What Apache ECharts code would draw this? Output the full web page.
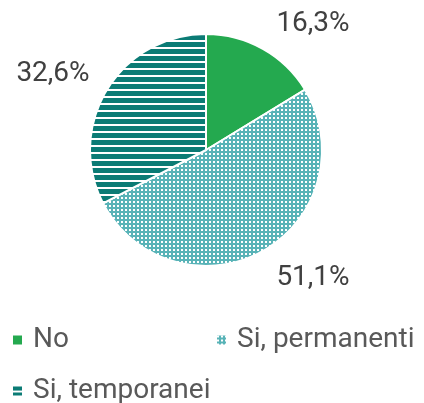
<!DOCTYPE html>
<html>
<head>
<meta charset="utf-8">
<script src="https://cdn.jsdelivr.net/npm/echarts@6/dist/echarts.min.js"></script>
<style>
  html, body { margin: 0; padding: 0; background: #fff; }
  #chart { width: 424px; height: 403px; }
</style>
</head>
<body>
<div id="chart"></div>
<script>
// Data
const categories = ['No', 'Si, permanenti', 'Si, temporanei'];
const values = [16.3, 51.1, 32.6];

const GREEN = '#24a94f';
const LIGHT_TEAL = '#58b3b7';
const DARK_TEAL = '#0b7b75';

// dotted tile for "Si, permanenti"
function dotPattern() {
    const c = document.createElement('canvas');
    c.width = 4; c.height = 4;
    const ctx = c.getContext('2d');
    ctx.fillStyle = LIGHT_TEAL;
    ctx.fillRect(0, 0, 4, 4);
    ctx.fillStyle = '#ffffff';
    ctx.fillRect(1, 1, 2, 2);
    return c;
}

// horizontal stripes for "Si, temporanei"
function stripePattern() {
    const c = document.createElement('canvas');
    c.width = 4; c.height = 7;
    const ctx = c.getContext('2d');
    ctx.fillStyle = '#ffffff';
    ctx.fillRect(0, 0, 4, 7);
    ctx.fillStyle = DARK_TEAL;
    ctx.fillRect(0, 0, 4, 5);
    return c;
}

const fills = [
    GREEN,
    { image: dotPattern(), repeat: 'repeat' },
    { image: stripePattern(), repeat: 'repeat' },
];

const chart = echarts.init(document.getElementById('chart'), null, { renderer: 'canvas' });

// where Excel put the percentage labels (centre of text)
const labelSpots = [
    [313, 24],
    [313, 278],
    [53, 74],
];

const textStyle = {
    fontFamily: 'Roboto', fontSize: 28, color: '#595959',
    padding: [0, 0, 0, 5],
};

function legendFor(i, left, top) {
    return {
        data: [categories[i]],
        left: left,
        top: top,
        icon: 'rect',
        itemWidth: 11,
        itemHeight: 11,
        itemGap: 0,
        padding: 0,
        textStyle: textStyle,
        selectedMode: false,
    };
}

chart.setOption({
    animation: false,
    legend: [
        legendFor(0, 11, 326),
        legendFor(1, 215, 326),
        legendFor(2, 11, 377),
    ],
    series: [{
        type: 'pie',
        center: [206, 150],
        radius: 116,
        startAngle: 90,
        clockwise: true,
        data: categories.map((name, i) => ({
            name: name,
            value: values[i],
            itemStyle: { color: fills[i] },
        })),
        itemStyle: { borderColor: '#ffffff', borderWidth: 2 },
        label: {
            show: true,
            position: 'outside',
            formatter: (p) => p.value.toFixed(1).replace('.', ',') + '%',
            fontFamily: 'Roboto',
            fontSize: 28,
            color: '#404040',
            overflow: 'none',
        },
        labelLine: { show: false },
        labelLayout: (p) => ({
            x: labelSpots[p.dataIndex][0],
            y: labelSpots[p.dataIndex][1],
            align: 'center',
            verticalAlign: 'middle',
        }),
        emphasis: { disabled: true },
    }],
});
</script>
</body>
</html>
